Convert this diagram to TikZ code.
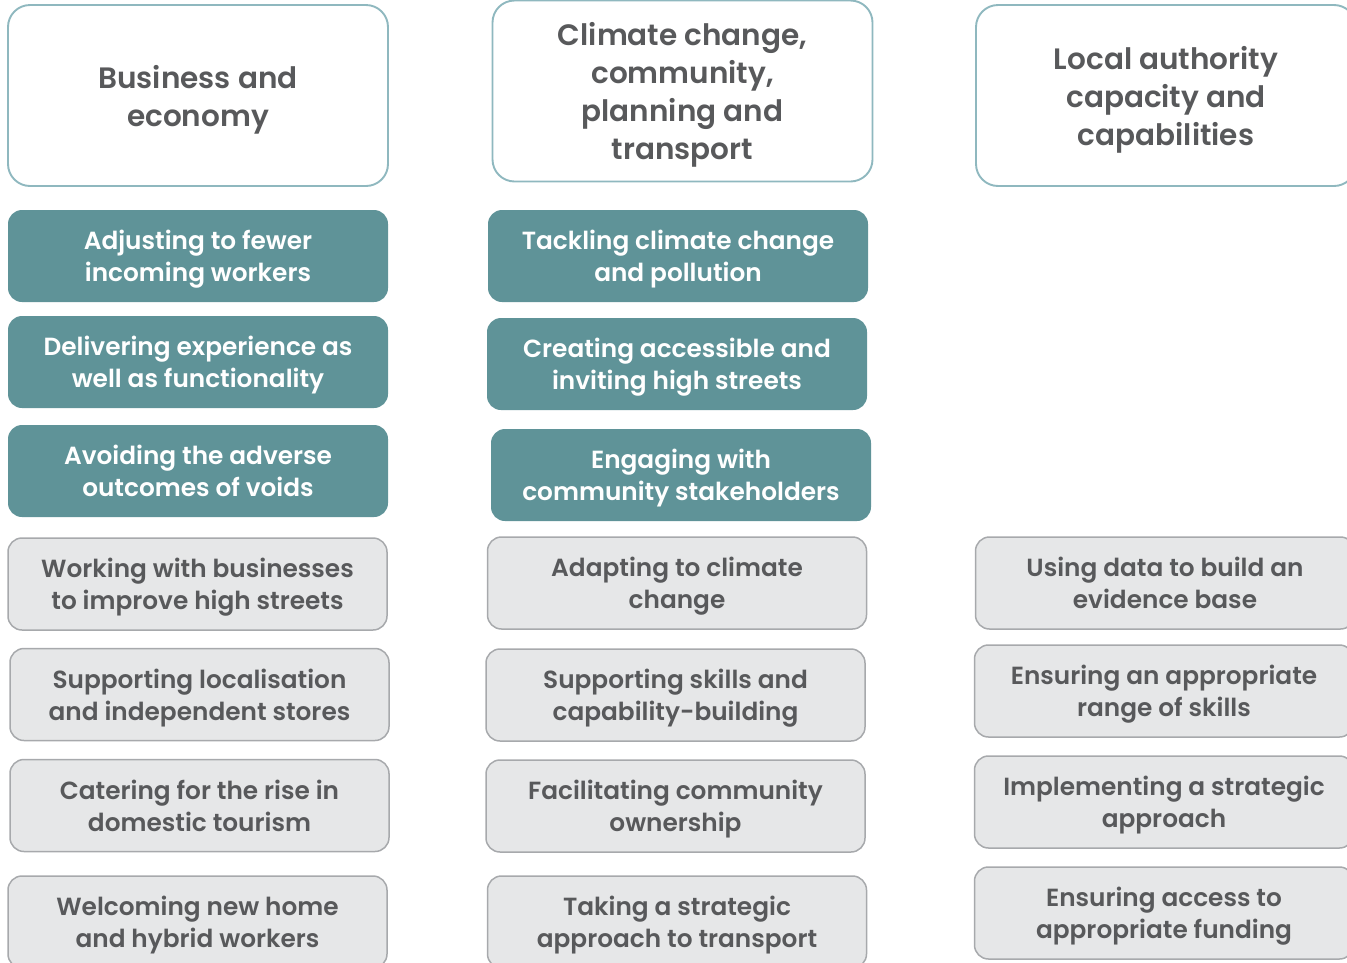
\documentclass[tikz,border=0pt]{standalone}
\usepackage{fontspec}
\setmainfont{Poppins}[UprightFont=* SemiBold]
\usetikzlibrary{positioning}
\definecolor{tealfill}{HTML}{5F9398}
\definecolor{headline}{HTML}{8FB8BF}
\definecolor{greyfill}{HTML}{E6E7E8}
\definecolor{greyline}{HTML}{A7A9AC}
\definecolor{textgrey}{HTML}{58595B}

\begin{document}
\begin{tikzpicture}[x=1pt,y=-1pt,
  head/.style = {draw=headline, line width=1.9pt, fill=white, rounded corners=22pt, text=textgrey, align=center, font=\fontsize{29.5}{38}\selectfont, minimum width=380pt, minimum height=181pt, inner sep=0pt, text depth=0pt},
  theme/.style = {fill=tealfill, rounded corners=14pt, text=white, align=center, font=\fontsize{24.8}{32}\selectfont, minimum width=380pt, minimum height=92pt, inner sep=0pt, text depth=0pt},
  action/.style = {draw=greyline, line width=1.5pt, fill=greyfill, rounded corners=14pt, text=textgrey, align=center, font=\fontsize{24.8}{32}\selectfont, minimum width=379pt, minimum height=92pt, inner sep=0pt, text depth=0pt},]
\useasboundingbox (0,0) rectangle (1347,962);
% headers
\node (hbus) at (198,95.5)[head] {Business and\\economy};
\node (hclim) at (682.5,91)[head] {Climate change,\\community,\\planning and\\transport};
\node (hloc) at (1166,95.5)[head] {Local authority\\capacity and\\capabilities};
% business and economy
\node (adjust) at (198,256)[theme] {Adjusting to fewer\\incoming workers};
\node (deliver) at (198,362)[theme] {Delivering experience as\\well as functionality};
\node (voids) at (198,471)[theme] {Avoiding the adverse\\outcomes of voids};
\node (workbus) at (197.5,584)[action] {Working with businesses\\to improve high streets};
\node (local) at (199.5,694.5)[action] {Supporting localisation\\and independent stores};
\node (tourism) at (199.5,805.5)[action] {Catering for the rise in\\domestic tourism};
\node (hybrid) at (197.5,922)[action] {Welcoming new home\\and hybrid workers};
% climate change, community, planning and transport
\node (tackle) at (678,256)[theme] {Tackling climate change\\and pollution};
\node (access) at (677,364)[theme] {Creating accessible and\\inviting high streets};
\node (engage) at (681,475)[theme] {Engaging with\\community stakeholders};
\node (adapt) at (677,583)[action] {Adapting to climate\\change};
\node (skills) at (675.5,695)[action] {Supporting skills and\\capability-building};
\node (owner) at (675.5,806)[action] {Facilitating community\\ownership};
\node (transport) at (677,922)[action] {Taking a strategic\\approach to transport};
% local authority capacity and capabilities
\node (data) at (1165,583)[action] {Using data to build an\\evidence base};
\node (range) at (1164,691)[action] {Ensuring an appropriate\\range of skills};
\node (strat) at (1164,802)[action] {Implementing a strategic\\approach};
\node (fund) at (1164,913)[action] {Ensuring access to\\appropriate funding};
\end{tikzpicture}
\end{document}
